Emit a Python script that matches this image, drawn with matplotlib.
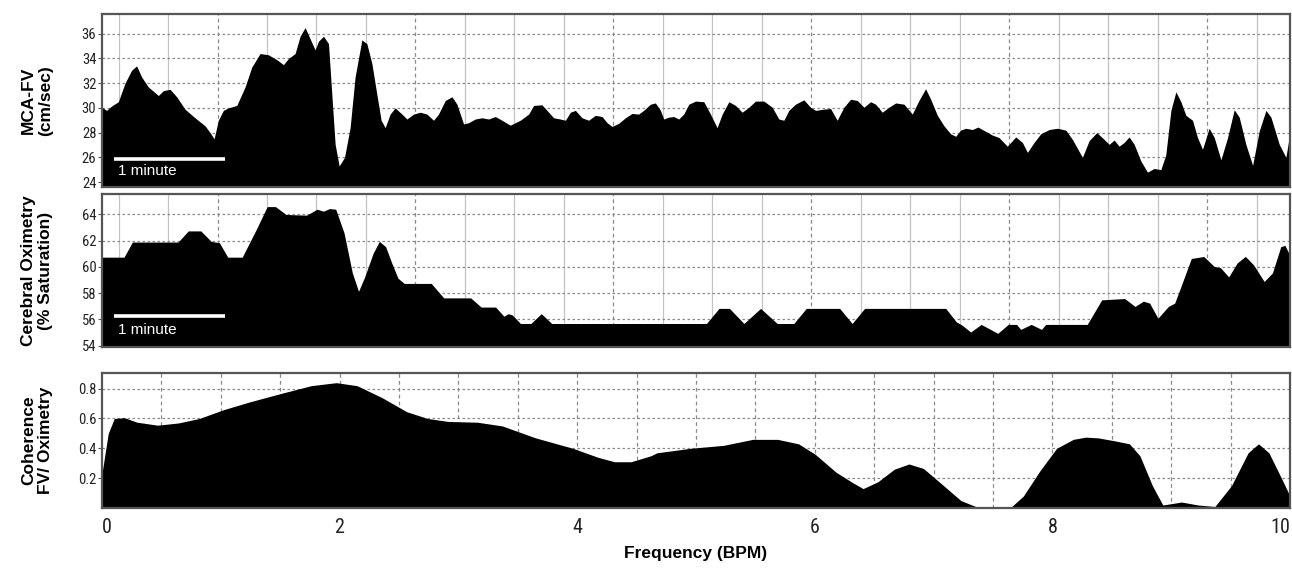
import numpy as np
import matplotlib
matplotlib.use("Agg")
import matplotlib.pyplot as plt

plt.rcParams['font.family'] = ['Liberation Sans', 'DejaVu Sans']

# ---- MCA flow velocity trace (cm/sec), x on a 0-10 display scale
fv_x = [0.0, 0.039, 0.081, 0.138, 0.194, 0.25, 0.292, 0.334, 0.39, 0.475, 0.517, 0.573, 0.629,
        0.699, 0.783, 0.868, 0.91, 0.944, 0.98, 1.022, 1.064, 1.135, 1.205, 1.261, 1.331, 1.401,
        1.472, 1.528, 1.57, 1.626, 1.668, 1.71, 1.752, 1.794, 1.823, 1.865, 1.907, 1.935, 1.963,
        1.997, 2.042, 2.089, 2.131, 2.188, 2.23, 2.272, 2.314, 2.35, 2.384, 2.426, 2.468, 2.525,
        2.567, 2.623, 2.679, 2.735, 2.791, 2.833, 2.89, 2.946, 2.988, 3.044, 3.086, 3.142, 3.199,
        3.255, 3.311, 3.367, 3.437, 3.521, 3.592, 3.634, 3.704, 3.76, 3.802, 3.858, 3.901, 3.943,
        3.985, 4.041, 4.097, 4.153, 4.21, 4.252, 4.294, 4.35, 4.406, 4.462, 4.518, 4.56, 4.617,
        4.659, 4.701, 4.729, 4.771, 4.813, 4.855, 4.897, 4.94, 4.996, 5.066, 5.122, 5.178, 5.221,
        5.277, 5.333, 5.389, 5.445, 5.501, 5.572, 5.642, 5.698, 5.74, 5.782, 5.838, 5.908, 5.965,
        6.007, 6.077, 6.133, 6.189, 6.245, 6.302, 6.358, 6.414, 6.47, 6.512, 6.568, 6.624, 6.681,
        6.751, 6.821, 6.877, 6.933, 6.976, 7.032, 7.088, 7.144, 7.186, 7.228, 7.27, 7.327, 7.374,
        7.439, 7.495, 7.551, 7.621, 7.692, 7.748, 7.79, 7.846, 7.902, 7.973, 8.043, 8.113, 8.169,
        8.253, 8.31, 8.374, 8.436, 8.478, 8.52, 8.562, 8.604, 8.646, 8.689, 8.745, 8.801, 8.857,
        8.913, 8.955, 8.998, 9.04, 9.082, 9.124, 9.18, 9.222, 9.264, 9.32, 9.363, 9.419, 9.475,
        9.531, 9.573, 9.629, 9.686, 9.742, 9.798, 9.84, 9.91, 9.966, 10.0]
fv_y = [30.05, 29.8, 30.15, 30.5, 32.0, 33.05, 33.4, 32.5, 31.7, 31.0, 31.4, 31.5, 30.9,
        29.9, 29.2, 28.55, 28.0, 27.5, 29.0, 29.8, 30.0, 30.2, 31.7, 33.3, 34.4, 34.3,
        33.9, 33.5, 34.0, 34.4, 35.8, 36.5, 35.6, 34.7, 35.4, 35.8, 35.2, 31.1, 27.05,
        25.3, 26.0, 28.4, 32.5, 35.5, 35.2, 33.6, 31.1, 29.0, 28.4, 29.5, 30.0, 29.5,
        29.1, 29.5, 29.65, 29.5, 29.0, 29.5, 30.6, 30.9, 30.3, 28.7, 28.8, 29.1, 29.2,
        29.1, 29.3, 29.0, 28.6, 29.0, 29.5, 30.2, 30.25, 29.65, 29.2, 29.1, 29.0, 29.65,
        29.8, 29.2, 29.0, 29.4, 29.3, 28.8, 28.5, 28.75, 29.2, 29.55, 29.5, 29.8, 30.3,
        30.4, 29.8, 29.1, 29.25, 29.3, 29.1, 29.5, 30.3, 30.55, 30.5, 29.5, 28.4, 29.5,
        30.5, 30.2, 29.65, 30.05, 30.55, 30.55, 30.05, 29.1, 29.0, 29.8, 30.3, 30.65, 30.05,
        29.8, 29.9, 29.95, 29.0, 30.05, 30.7, 30.6, 30.05, 30.5, 30.3, 29.65, 30.05, 30.4,
        30.3, 29.5, 30.6, 31.55, 30.7, 29.4, 28.55, 27.9, 27.7, 28.2, 28.35, 28.25, 28.45,
        28.1, 27.8, 27.6, 26.9, 27.65, 27.2, 26.4, 27.2, 27.9, 28.25, 28.35, 28.2, 27.45,
        26.0, 27.35, 28.0, 27.45, 27.05, 27.4, 26.9, 27.2, 27.65, 27.05, 25.7, 24.8, 25.1,
        25.0, 26.2, 29.8, 31.3, 30.5, 29.4, 29.0, 27.6, 26.65, 28.35, 27.6, 25.8, 27.6,
        29.85, 29.25, 27.05, 25.35, 28.15, 29.8, 29.25, 27.05, 26.0, 28.0]

# ---- Cerebral oximetry trace (% saturation)
ox_x = [0.0, 0.19, 0.26, 0.645, 0.731, 0.836, 0.924, 0.993, 1.063, 1.185, 1.238, 1.308, 1.395,
        1.465, 1.553, 1.727, 1.815, 1.868, 1.92, 1.972, 2.042, 2.112, 2.164, 2.216, 2.287, 2.339,
        2.392, 2.444, 2.496, 2.549, 2.776, 2.881, 3.108, 3.196, 3.318, 3.388, 3.423, 3.458, 3.527,
        3.615, 3.702, 3.79, 5.093, 5.198, 5.286, 5.408, 5.548, 5.688, 5.828, 5.933, 6.214, 6.319,
        6.424, 7.107, 7.195, 7.248, 7.317, 7.405, 7.545, 7.633, 7.703, 7.738, 7.826, 7.913, 7.948,
        8.298, 8.42, 8.613, 8.7, 8.771, 8.823, 8.893, 8.981, 9.034, 9.086, 9.174, 9.279, 9.366,
        9.419, 9.489, 9.559, 9.629, 9.699, 9.787, 9.857, 9.927, 9.962, 10.0]
ox_y = [60.7, 60.7, 61.85, 61.85, 62.7, 62.7, 61.9, 61.8, 60.7, 60.7, 61.65, 62.9, 64.55,
        64.55, 63.95, 63.9, 64.35, 64.2, 64.4, 64.35, 62.55, 59.5, 58.1, 59.2, 61.0, 61.9,
        61.5, 60.25, 59.1, 58.7, 58.7, 57.6, 57.6, 56.9, 56.9, 56.2, 56.4, 56.3, 55.65,
        55.65, 56.4, 55.65, 55.65, 56.8, 56.8, 55.65, 56.8, 55.65, 55.65, 56.8, 56.8, 55.65,
        56.8, 56.8, 55.78, 55.5, 55.0, 55.58, 54.9, 55.58, 55.58, 55.2, 55.58, 55.2, 55.58,
        55.58, 57.45, 57.55, 56.95, 57.35, 57.2, 56.05, 56.95, 57.2, 58.45, 60.6, 60.75, 60.0,
        59.9, 59.2, 60.25, 60.76, 60.1, 58.85, 59.5, 61.5, 61.6, 60.9]

# ---- Coherence FV / oximetry vs frequency (BPM)
coh_f = [0.0, 0.053, 0.104, 0.19, 0.295, 0.469, 0.644, 0.819, 1.028, 1.238, 1.518, 1.762, 1.972,
         2.147, 2.357, 2.566, 2.741, 2.916, 3.16, 3.37, 3.65, 3.965, 4.175, 4.314, 4.454, 4.62,
         4.672, 4.953, 5.233, 5.478, 5.688, 5.864, 6.004, 6.179, 6.319, 6.407, 6.53, 6.67, 6.793,
         6.915, 7.055, 7.23, 7.37, 7.651, 7.756, 7.896, 8.036, 8.176, 8.281, 8.386, 8.526, 8.649,
         8.737, 8.842, 8.93, 9.088, 9.228, 9.368, 9.508, 9.648, 9.735, 9.823, 9.928, 10.0]
coh_v = [0.23, 0.50, 0.60, 0.605, 0.575, 0.555, 0.57, 0.60, 0.66, 0.71, 0.77, 0.82, 0.84,
         0.82, 0.74, 0.645, 0.60, 0.58, 0.575, 0.55, 0.47, 0.40, 0.34, 0.31, 0.31, 0.35,
         0.37, 0.40, 0.42, 0.46, 0.46, 0.43, 0.36, 0.24, 0.17, 0.13, 0.175, 0.26, 0.295,
         0.265, 0.17, 0.05, 0.005, 0.005, 0.08, 0.25, 0.40, 0.46, 0.475, 0.47, 0.45, 0.43,
         0.35, 0.15, 0.02, 0.04, 0.02, 0.01, 0.15, 0.37, 0.43, 0.37, 0.20, 0.08]

fv_ticks = [24, 26, 28, 30, 32, 34, 36]
ox_ticks = [54, 56, 58, 60, 62, 64]
coh_ticks = [0.2, 0.4, 0.6, 0.8]
freq_ticks = [0, 2, 4, 6, 8, 10]

narrow = ['Roboto Condensed', 'DejaVu Sans Condensed', 'Liberation Sans Narrow',
          'Liberation Sans']

fig = plt.figure(figsize=(12.92, 5.69), dpi=100)
ax1 = fig.add_axes([0.0789, 0.6714, 0.9195, 0.3040])
ax2 = fig.add_axes([0.0789, 0.3902, 0.9195, 0.2689])
ax3 = fig.add_axes([0.0789, 0.1072, 0.9195, 0.2373])


def frame(ax):
    for s in ax.spines.values():
        s.set_color('#555555')
        s.set_linewidth(1.6)
    ax.tick_params(axis='y', length=3, width=0.8, color='#555555', pad=1,
                   labelsize=10.5, labelcolor='#222222')
    for lab in ax.get_yticklabels():
        lab.set_family(narrow)


def time_grid(ax, ticks):
    # trace panels: light solid lines, every 4th one dashed and darker
    for k, gx in enumerate(np.arange(0.14, 10, 0.4165)):
        if k % 4 == 2:
            ax.axvline(gx, color='#8a8a8a', lw=0.9, ls=(0, (3, 2.5)), zorder=0.5)
        else:
            ax.axvline(gx, color='#c4c4c4', lw=0.9, zorder=0.5)
    for t in ticks:
        ax.axhline(t, color='#8a8a8a', lw=0.9, ls=(0, (2, 2)), zorder=0.5)


def minute_bar(ax, ybar, ytxt):
    ax.plot([0.0101, 0.1035], [ybar, ybar], transform=ax.transAxes,
            color='white', lw=2.6, solid_capstyle='butt', zorder=5)
    ax.text(0.0135, ytxt, '1 minute', transform=ax.transAxes, color='white',
            fontsize=11, va='center', ha='left', zorder=5)


# top: MCA-FV
ax1.fill_between(fv_x, fv_y, 0, color='black', lw=0, zorder=2)
ax1.set_xlim(0, 10)
ax1.set_ylim(23.6, 37.6)
ax1.set_yticks(fv_ticks)
ax1.set_xticks([])
time_grid(ax1, fv_ticks)
minute_bar(ax1, 0.16, 0.095)
frame(ax1)

# middle: oximetry
ax2.fill_between(ox_x, ox_y, 0, color='black', lw=0, zorder=2)
ax2.set_xlim(0, 10)
ax2.set_ylim(53.9, 65.55)
ax2.set_yticks(ox_ticks)
ax2.set_xticks([])
time_grid(ax2, ox_ticks)
minute_bar(ax2, 0.205, 0.11)
frame(ax2)

# bottom: coherence
ax3.fill_between(coh_f, coh_v, 0, color='black', lw=0, zorder=2)
ax3.set_xlim(0, 10)
ax3.set_ylim(0, 0.905)
ax3.set_yticks(coh_ticks)
ax3.set_yticklabels([f'{t:.1f}' for t in coh_ticks])
ax3.set_xticks(freq_ticks)
ax3.set_xticklabels([str(t) for t in freq_ticks])
for gx in np.arange(0.5, 10, 0.5):
    ax3.axvline(gx, color='#8a8a8a', lw=0.9, ls=(0, (3, 2.5)), zorder=0.5)
for t in coh_ticks:
    ax3.axhline(t, color='#8a8a8a', lw=0.9, ls=(0, (2, 2)), zorder=0.5)
frame(ax3)
ax3.tick_params(axis='x', length=0, pad=7, labelsize=14.5, labelcolor='#222222')
for lab in ax3.get_xticklabels():
    lab.set_family(narrow)
ax3.get_xticklabels()[0].set_ha('left')
ax3.get_xticklabels()[-1].set_ha('right')
ax3.set_xlabel('Frequency (BPM)', fontsize=12.5, fontweight='bold', labelpad=7)

# y labels
ylab_x = 0.0285
fig.text(ylab_x, 0.6714 + 0.304 / 2, 'MCA-FV\n(cm/sec)', rotation=90, ha='center',
         va='center', fontsize=12.5, fontweight='bold', linespacing=1.15)
fig.text(ylab_x, 0.3902 + 0.2689 / 2, 'Cerebral Oximetry\n(% Saturation)', rotation=90,
         ha='center', va='center', fontsize=12.5, fontweight='bold', linespacing=1.15)
fig.text(ylab_x, 0.1072 + 0.2373 / 2, 'Coherence\nFV/ Oximetry', rotation=90, ha='center',
         va='center', fontsize=12.5, fontweight='bold', linespacing=1.15)

fig.savefig('out.png', dpi=100)
